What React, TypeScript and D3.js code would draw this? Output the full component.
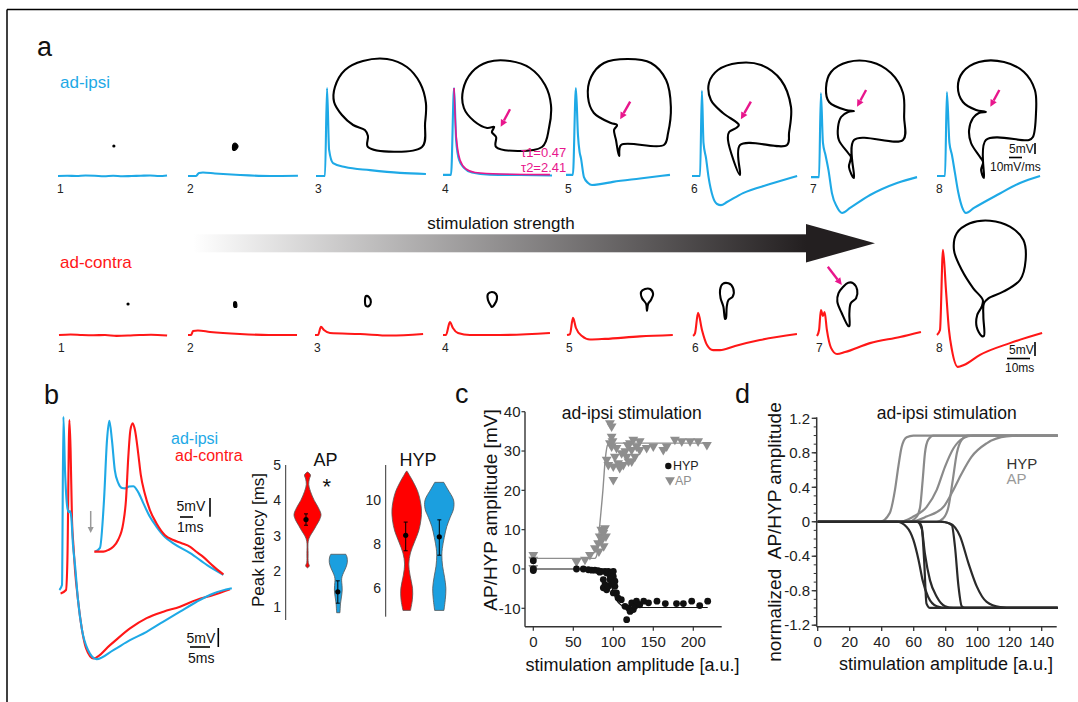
import React from 'react';
import * as d3 from 'd3';

type Pt = [number, number];

// ---------- panel a: traces, t [ms] / V [mV] ----------
const ipsiTraces: Pt[][] = [
  [[0, 0], [4, 0.1], [8, 0], [12, 0.2], [16, 0.1], [20, -0.1], [24, 0.1], [28, -0.1], [32, 0], [36, 0.1], [40, 0.2], [44, 0], [47.4, 0.2]],
  [[0, 0], [3.5, 0], [4.8, 1.1], [6.5, 1.25], [11.7, 0.9], [22.6, 0.35], [35.7, 0], [47.8, 0.1]],
  [[0, 0], [3.9, 0], [4.8, 31.4], [5.7, 9.3], [7.4, 4.6], [12.6, 3.2], [23.5, 2.1], [36.5, 1.1], [47.8, 0.7]],
  [[0, 0.4], [3.5, 0.4], [4.8, 31.4], [5.7, 12.9], [7, 5.7], [9.1, 2.9], [12.6, 1.25], [20.4, 0.5], [33.5, 0.35], [47.4, 0.2]],
  [[0, 0.4], [3, 0.4], [4.3, 31.4], [5.2, 14.6], [5.9, 8.6], [6.5, 6.4], [7.8, -0.4], [9.6, -2.5], [11.3, -3.2], [14.8, -2.9], [20.4, -2.1], [32.2, -0.9], [45.2, 0.4]],
  [[0, 0], [3.5, 0], [4.3, 30.4], [5, 11.8], [6.1, 6.4], [7.2, -0.4], [9.1, -7.5], [10.9, -10], [12.6, -10.4], [15.2, -9.3], [22.2, -6.1], [33.9, -2.9], [45.7, 0]],
  [[0, -0.4], [3.5, -0.4], [4.3, 29.6], [5.2, 11.8], [6.3, 7.5], [7.6, 2.1], [9.1, -6.1], [11.3, -11.1], [13.5, -13.2], [17, -11.4], [25.7, -6.8], [37.4, -2.5], [46.1, -0.4]],
  [[0, 0], [3.5, 0], [4.3, 30], [5.4, 11.8], [6.5, 7.5], [7.8, 1.1], [9.3, -6.1], [10.9, -11.1], [12.6, -13.2], [16.1, -11.4], [26.1, -6.8], [36.1, -2.5], [44.8, 0]],
];
const contraTraces: Pt[][] = [
  [[0, 0], [5, 0.2], [10, 0], [15, -0.1], [20, 0], [25, -0.3], [30, -0.2], [35, 0], [40, 0.1], [47, -0.2]],
  [[0, 0], [1.3, 0], [2.2, 1.4], [4.3, 1.6], [9.6, 1.1], [22.6, 0.35], [35, 0], [47.4, 0]],
  [[0, 0], [1.3, 0], [2.6, 2.9], [3.9, 1.8], [6.5, 0.7], [19.6, 0.35], [32.6, -0.2], [47, 0.35]],
  [[0, 0], [1.3, 0], [3, 4.6], [4.3, 2.5], [6.5, 0.7], [11.7, 0], [24.8, 0], [46.5, 0.7]],
  [[0, 0], [1.3, 0.35], [2.6, 6.1], [3.9, 2.5], [6.5, -0.35], [10, -1.6], [16.5, -1.4], [31.7, -0.5], [46, 0]],
  [[0, -0.35], [0.9, 0.7], [2.2, 7.9], [3.9, 1.8], [6.1, -3.6], [8.7, -5.4], [11.7, -5.4], [18.3, -3.9], [29.1, -1.8], [45.2, 0.35]],
  [[0, -0.35], [0.9, 1.8], [1.7, 8.9], [2.6, 6.8], [3.3, 8.2], [4.3, 1.8], [6.1, -4.6], [8.7, -6.8], [12.2, -6.1], [23, -2.9], [36.1, -0.7], [45.2, 1.1]],
  [[0, 0], [1.3, 1.8], [2.6, 30.4], [3.9, 16.1], [5.2, 1.8], [6.5, -5.4], [9.1, -11.4], [11.7, -10.7], [18.7, -7.1], [31.7, -2.9], [45.7, 0.7]],
];
// double exponential fit of trace 4
const ipsiFit4: Pt[] = [[4.8, 31.4], [5.7, 14.6], [7.4, 5.7], [10, 2.5], [13.9, 1.25], [24.8, 0.7], [46.5, 0.5]];
const tauLabels = ['τ1=0.47', 'τ2=2.41'];
const stimNumbers = ['1', '2', '3', '4', '5', '6', '7', '8'];

// phase plots, V [mV] / dV/dt [mV/ms]
const ipsiLoops: Pt[][] = [
  [[2.1, 1]],
  [[-1.8, -3], [-1.8, 2.5], [-1.1, 4], [0, 1], [-0.9, -3]],
  [[0.7, 0], [20, 0], [21.1, 24], [21.4, 44], [19.3, 64], [14.6, 80], [7.5, 88], [-1.1, 86], [-7.5, 77], [-11.1, 60], [-11.4, 45], [-8.6, 32], [-4.6, 22], [-0.4, 17], [0.7, 11]],
  [[1.1, 0], [17.5, 0], [20, 19], [20.7, 42], [18.6, 62], [13.2, 79], [6.1, 86], [-1.8, 85], [-7.5, 75], [-10.7, 57], [-10.4, 39], [-6.8, 26], [-2.1, 19], [0.4, 20], [-0.4, 15], [1.1, 10]],
  [[1.1, -9], [0, 7], [-0.7, 17], [0.4, 22], [-1.8, 24], [-7.9, 34], [-10, 50], [-8.9, 70], [-4.3, 84], [4.3, 88], [12.5, 84], [17.9, 67], [19.6, 40], [18.6, 14], [17.1, 2], [1.8, 2]],
  [[-0.7, -28], [-5, 7], [-4.6, 15], [-2.1, 19], [-1.1, 22], [-6.8, 34], [-11.1, 47], [-11.8, 64], [-8.6, 77], [-1.4, 84], [6.8, 82], [13.9, 67], [17.5, 40], [16.8, 14], [16.1, 2], [-0.7, 2]],
  [[-2.5, -31], [-4.3, -20], [-3.6, -10], [-4.6, -6], [-7.9, 7], [-8.2, 20], [-7.1, 30], [-4.6, 35], [-2.5, 36], [-5.4, 37], [-11.4, 45], [-12.5, 59], [-10.7, 75], [-4.6, 85], [3.6, 85], [10.7, 74], [15, 54], [15.4, 30], [15, 7], [-2.5, 7]],
  [[-1.1, -31], [-2.1, -23], [-1.4, -15], [-2.5, -10], [-5.7, 4], [-6.4, 17], [-5, 29], [-2.9, 34], [-0.4, 35], [-3.9, 37], [-8.6, 45], [-10.4, 60], [-8.6, 75], [-2.9, 85], [6.1, 85], [13.2, 75], [17.1, 57], [17.5, 34], [16.4, 10], [15, 7], [-0.4, 7]],
];
const contraLoops: Pt[][] = [
  [[6.8, 2]],
  [[-1.4, -1], [-1.4, 4], [-0.7, 4], [-0.5, -1]],
  [[0.4, 0], [0, 6], [0.4, 10], [1.4, 9], [2.1, 4], [1.4, 0]],
  [[-0.7, 0], [-1.8, 6], [-1.8, 12], [-0.4, 14], [1.1, 12], [1.4, 7], [0.4, 1], [-0.4, -1]],
  [[10.7, -5], [10.4, 2], [8.9, 8], [8.6, 14], [10, 17], [11.8, 17], [12.9, 12], [12.1, 6], [11.1, 2]],
  [[-6.4, -13], [-7, -0.7], [-8, 7.7], [-8.2, 16], [-7.3, 22], [-5.2, 22.7], [-3.5, 17.7], [-3.7, 9.3], [-5.2, 6], [-5.8, -0.7], [-6.1, -12.3]],
  [[-6.7, -20], [-9, -7.3], [-10.6, 4.3], [-10.2, 12.7], [-8.5, 19.3], [-6.7, 23.3], [-4.9, 22.7], [-3.5, 16], [-3.9, 7.7], [-5.8, 2.7], [-6.3, -7.3], [-6.3, -20]],
  [[-1.9, -30], [-3.7, -20.7], [-3.5, -9], [-1.9, -0.7], [-1.5, 6], [-4.9, 17.7], [-9, 36], [-11.8, 56], [-10.8, 72.7], [-6.1, 82.7], [1.1, 85.3], [8.2, 79.3], [13, 66], [13.8, 46], [11.8, 26], [5.8, 14.3], [0.5, 7.7], [-1.1, 2.7], [-1.3, -10.7], [-1.1, -30]],
];

// ---------- panel b ----------
const ipsiMain: Pt[] = [[0.1, 0], [0.75, 1.3], [1.1, 45.6], [1.5, 31.6], [2, 22.4], [2.4, 20.5], [2.75, 20.8], [3.1, 18.9], [3.5, 11.8], [4, 6.6], [4.75, -2.6], [5.75, -10.5], [7.25, -15.8], [9.4, -18.2], [13.6, -15.8], [17.75, -13.2], [21.9, -11], [26.1, -8.3], [30.25, -5.7], [34.4, -3.1], [38.6, -0.9], [43.2, 0.45]];
const contraMain: Pt[] = [[0.4, -0.9], [1.75, 0], [2.1, 7.9], [2.6, 44.7], [2.9, 36.8], [3.25, 18.4], [3.6, 11.8], [4, 5.3], [4.75, -2.6], [5.75, -10.5], [6.75, -15.3], [8.6, -18], [12.75, -14.5], [17.75, -10.1], [21.9, -7.4], [26.1, -5.7], [30.25, -4.4], [34.4, -2.6], [38.6, -1.3], [42.75, 0.2]];
const ipsiInset: Pt[] = [[0.08, 0.1], [0.46, 1.1], [0.77, 13.9], [1, 29.9], [1.18, 35.1], [1.38, 29.9], [1.6, 21.9], [1.87, 18.4], [2.15, 17.1], [2.4, 17], [2.7, 17.5], [3.02, 17.6], [3.4, 16], [3.8, 13], [4.3, 9.4], [4.8, 6.8], [5.46, 4], [6.1, 2.3], [7.4, -0.3], [8.7, -3.5], [9.95, -6.1]];
const contraInset: Pt[] = [[0.02, 0.1], [0.72, 0.1], [1.08, 0.5], [1.48, 1.4], [1.85, 3.2], [2.25, 7.7], [2.46, 13.9], [2.64, 25.5], [2.8, 32.6], [2.98, 34.4], [3.15, 32.6], [3.4, 26.4], [3.6, 20.6], [3.9, 15.7], [4.3, 11.2], [4.8, 7.7], [5.46, 4.5], [6.1, 3.2], [6.7, 2.4], [7.4, 1.4], [7.9, 0], [8.4, -1.3], [9.15, -3.7], [9.95, -6]];

// violins: [value, relative density]
const apRed: Pt[] = [[4.8, 0.02], [4.72, 0.2], [4.6, 0.12], [4.45, 0.08], [4.25, 0.2], [4.0, 0.45], [3.8, 0.72], [3.6, 0.9], [3.45, 0.8], [3.3, 0.6], [3.15, 0.4], [3.0, 0.18], [2.85, 0.05], [2.5, 0.04], [2.25, 0.05], [2.15, 0.12], [2.1, 0.02]];
const apBlue: Pt[] = [[2.48, 0.5], [2.4, 0.58], [2.25, 0.6], [2.1, 0.5], [1.97, 0.36], [1.85, 0.25], [1.75, 0.22], [1.6, 0.25], [1.47, 0.26], [1.3, 0.22], [1.1, 0.15], [0.9, 0.12], [0.83, 0.11]];
const hypRed: Pt[] = [[11.3, 0.03], [11.1, 0.2], [10.8, 0.45], [10.3, 0.78], [9.6, 0.98], [9.1, 0.95], [8.6, 0.8], [8.1, 0.52], [7.6, 0.25], [7.1, 0.14], [6.6, 0.22], [6.0, 0.39], [5.5, 0.38], [5.0, 0.25]];
const hypBlue: Pt[] = [[10.8, 0.3], [10.5, 0.55], [10.0, 0.95], [9.6, 0.95], [9.2, 0.72], [8.8, 0.5], [8.3, 0.33], [7.8, 0.2], [7.5, 0.17], [7.0, 0.22], [6.5, 0.35], [6.0, 0.44], [5.5, 0.4], [5.0, 0.31]];
// mean, lower, upper
const apStats = [[3.46, 3.3, 3.62], [1.42, 1.1, 1.73]];
const hypStats = [[8.4, 7.7, 9.0], [8.33, 7.5, 9.1]];
const apTicks = [1, 2, 3, 4, 5];
const hypTicks = [6, 8, 10];

// ---------- panel c ----------
const apPoints: Pt[] = [[0, 3.6], [0, 2.4], [0, 0.3], [54, 1.9], [64.6, 2.4], [70.8, 3.6], [77, 5.3], [81, 6.6], [83, 8.3], [85, 10], [87.5, 9.2], [89.6, 10.4], [90.8, 8.3], [82, 4.5], [86, 7.5], [88, 5.8],
  [95.8, 37.1], [97.9, 36.3], [97.9, 33.7], [95.8, 32], [97.9, 31.2], [91.7, 27.8], [93.8, 26.5], [100, 26.1], [102, 28.6], [100, 22.7], [106, 26.9], [112.5, 26.5], [110.4, 29.5], [116.7, 28.6], [120.8, 32], [125, 32.9], [122.9, 30.3], [129, 31.2], [133, 30.3], [127, 28.6], [123, 27.4], [119, 27.4], [133, 32.5], [141.7, 30.8], [150, 31.2], [162.5, 30.3], [166.7, 31.2], [177, 32.9], [185.6, 32.5], [196, 32.5], [206, 32.5], [217, 31.6], [99, 32.5], [104, 30.8], [108, 25.7], [118, 31.5], [115, 30]];
const hypPoints: Pt[] = [[0, 2.1], [0, 0], [0, -0.4], [54, 0], [62.5, 0], [68.8, -0.2], [73, -0.3], [77, -0.3], [81, -0.4], [83, -0.8], [85, -0.6], [89.6, -0.6], [91.7, -1], [93.8, -0.6], [95.8, -1.4], [98, -1], [100, -0.6], [100, -1.9], [102, -3.1], [102, -4.4], [100, -6.1], [104, -6.1], [87.5, -2.7], [89.6, -4], [87.5, -4.8], [91.7, -5.3], [95.8, -2.7], [93.8, -4.4], [97.9, -3.6], [106, -7.4], [110, -7.8], [114.6, -9.5], [116.7, -12.9], [119, -9.9], [121, -10.8], [123, -8.6], [125, -10.3], [127, -9.5], [129, -8.2], [133, -9.1], [138, -8.2], [144, -8.6], [154.6, -8.2], [165, -8.8], [179, -8.8], [187.6, -8.8], [198, -8.2], [208, -9.3], [218, -8.2]];
const apFit: Pt[] = [[0, 2.7], [77, 2.7], [80, 4], [83, 11], [87, 20], [90, 28], [93, 31.6], [97, 32], [218, 32]];
const hypFit: Pt[] = [[0, 0], [80, 0], [90, -1], [97, -4], [103, -7.5], [110, -9.2], [120, -9.8], [218, -9.8]];
const cXTicks = [0, 50, 100, 150, 200];
const cYTicks = [-10, 0, 10, 20, 30, 40];

// ---------- panel d ----------
const apCurves: Pt[][] = [
  [[0, 0], [39, 0], [45, 0.1], [48.3, 0.37], [50.4, 0.64], [52.5, 0.87], [55.6, 0.98], [59.8, 1], [150, 1]],
  [[0, 0], [56.7, 0], [61.9, 0.06], [64, 0.17], [65.6, 0.48], [67, 0.79], [69, 0.95], [72.3, 1], [150, 1]],
  [[0, 0], [51.5, 0], [59.8, 0.06], [68, 0.17], [74.4, 0.37], [79.6, 0.64], [84.8, 0.85], [91, 0.97], [97, 1], [150, 1]],
  [[0, 0], [74.4, 0], [78.5, 0.04], [81.7, 0.17], [84.4, 0.48], [86.9, 0.79], [90, 0.95], [94, 1], [150, 1]],
  [[0, 0], [57.7, 0], [68, 0.06], [78.5, 0.17], [84.8, 0.37], [90, 0.56], [96, 0.75], [105.6, 0.91], [118, 0.99], [130.6, 1], [150, 1]],
];
const hypCurves: Pt[][] = [
  [[0, 0], [49.4, 0], [55.6, -0.06], [59.8, -0.21], [63, -0.44], [65.6, -0.68], [69, -0.87], [74.4, -0.98], [80.6, -1], [150, -1]],
  [[0, 0], [63, 0], [65, -0.06], [66.5, -0.44], [68, -0.95], [70.2, -1], [150, -1]],
  [[0, 0], [62, 0], [65, -0.08], [67, -0.37], [70.2, -0.68], [74.4, -0.87], [79.6, -0.98], [84.8, -1], [150, -1]],
  [[0, 0], [78.5, 0], [83.8, -0.04], [85.8, -0.29], [88, -0.75], [90, -0.98], [92, -1], [150, -1]],
  [[0, 0], [76.5, 0], [82.7, -0.02], [89, -0.17], [94.2, -0.48], [99.4, -0.75], [105.6, -0.93], [114, -0.99], [122, -1], [150, -1]],
];
const dXTicks = [0, 20, 40, 60, 80, 100, 120, 140];
const dYTicks = [-1.2, -0.8, -0.4, 0, 0.4, 0.8, 1.2];

// ---------- styling / layout ----------
const CYAN = '#1ea9e6';
const RED = '#ff1717';
const MAGENTA = '#e8168c';
const VBLUE = '#1b9fdf';
const FONT = 'Liberation Sans, Arial, Helvetica, sans-serif';
const AX = '#333';

const topX0 = [58, 188, 316, 443, 566, 692, 811, 937];
const botX0 = [59, 188, 315, 443, 567, 693, 817, 937];
const TOP_BASE = 176;
const BOT_BASE = 335;

// ms -> px, mV -> px (relative)
const tA = d3.scaleLinear().domain([0, 10]).range([0, 23]);
const vA = d3.scaleLinear().domain([0, 10]).range([0, -28]);
const phV = d3.scaleLinear().domain([0, 10]).range([0, 28]);
const phD = d3.scaleLinear().domain([0, 100]).range([0, -100]);

const loopArrows = [
  { row: 0, i: 3, v: 2.75, d: 20.3, dx: 9.3, dy: -17.4 },
  { row: 0, i: 4, v: 1.5, d: 27.7, dx: 10, dy: -17.6 },
  { row: 0, i: 5, v: -0.4, d: 27.7, dx: 10, dy: -17.6 },
  { row: 0, i: 6, v: -1.4, d: 40.3, dx: 9, dy: -16.7 },
  { row: 0, i: 7, v: 1.2, d: 40.3, dx: 9, dy: -16.7 },
  { row: 1, i: 6, v: -9, d: 21, dx: -14, dy: -18.3 },
];

function Arrow({ x1, y1, x2, y2, color, head = 7, width = 2 }: any) {
  const a = Math.atan2(y2 - y1, x2 - x1);
  const bx = x2 - head * Math.cos(a);
  const by = y2 - head * Math.sin(a);
  const px = Math.sin(a) * head * 0.5;
  const py = -Math.cos(a) * head * 0.5;
  return (
    <g>
      <line x1={x1} y1={y1} x2={bx} y2={by} stroke={color} strokeWidth={width} />
      <polygon points={`${x2},${y2} ${bx + px},${by + py} ${bx - px},${by - py}`} fill={color} />
    </g>
  );
}

function TraceRow({ traces, loops, x0s, base, color }: any) {
  return (
    <g>
      {traces.map((tr: Pt[], i: number) => {
        const x0 = x0s[i];
        const line = d3.line<Pt>().x(d => x0 + tA(d[0])).y(d => base + vA(d[1])).curve(d3.curveMonotoneX);
        return <path key={'t' + i} d={line(tr) || ''} fill="none" stroke={color} strokeWidth={2.1} strokeLinejoin="round" />;
      })}
      {loops.map((lp: Pt[], i: number) => {
        const ox = x0s[i] + 50;
        const oy = base - 29;
        if (lp.length === 1) {
          return <circle key={'l' + i} cx={ox + phV(lp[0][0])} cy={oy + phD(lp[0][1])} r={1.6} fill="#000" />;
        }
        const line = d3.line<Pt>().x(d => ox + phV(d[0])).y(d => oy + phD(d[1])).curve(d3.curveCatmullRomClosed.alpha(0.5));
        const small = lp.length <= 5;
        return <path key={'l' + i} d={line(lp) || ''} fill={small ? '#000' : 'none'} stroke="#000" strokeWidth={small ? 1.2 : 2.1} strokeLinejoin="round" />;
      })}
      {stimNumbers.map((n, i) => (
        <text key={'n' + i} x={x0s[i] - 1} y={base + 17} fontSize={12} fill="#222">{n}</text>
      ))}
    </g>
  );
}

function Violin({ dens, cx, y, color }: any) {
  const w = d3.scaleLinear().domain([0, 1]).range([0, 15]);
  const area = d3.area<Pt>().y(d => y(d[0])).x0(d => cx - w(d[1])).x1(d => cx + w(d[1])).curve(d3.curveCatmullRom);
  return <path d={area(dens) || ''} fill={color} stroke="#555" strokeWidth={0.8} />;
}

function ErrDot({ s, cx, y }: any) {
  return (
    <g stroke="#000" strokeWidth={1}>
      <line x1={cx} x2={cx} y1={y(s[1])} y2={y(s[2])} />
      <line x1={cx - 2} x2={cx + 2} y1={y(s[1])} y2={y(s[1])} />
      <line x1={cx - 2} x2={cx + 2} y1={y(s[2])} y2={y(s[2])} />
      <circle cx={cx} cy={y(s[0])} r={2.6} fill="#000" stroke="none" />
    </g>
  );
}

export default function App() {
  // panel b scales
  const bxMain = d3.scaleLinear().domain([0, 5]).range([59, 79]);
  const byMain = d3.scaleLinear().domain([0, 5]).range([590, 571]);
  const bxIn = d3.scaleLinear().domain([0, 1]).range([94, 107]);
  const byIn = d3.scaleLinear().domain([0, 5]).range([552, 533.3]);
  const lineB = (sx: any, sy: any) => d3.line<Pt>().x(d => sx(d[0])).y(d => sy(d[1])).curve(d3.curveMonotoneX);

  const yAP = d3.scaleLinear().domain([1, 5]).range([606.7, 465]);
  const yHYP = d3.scaleLinear().domain([6, 10]).range([588.3, 500]);

  // panel c
  const xC = d3.scaleLinear().domain([0, 200]).range([533.3, 693.3]);
  const yC = d3.scaleLinear().domain([-10, 40]).range([608.3, 411.7]);
  const cBottom = 626.7;
  const cLeft = 525;
  const lineC = d3.line<Pt>().x(d => xC(d[0])).y(d => yC(d[1])).curve(d3.curveMonotoneX);
  const tri = d3.symbol().type(d3.symbolTriangle).size(42)() || '';

  // panel d
  const xD = d3.scaleLinear().domain([0, 150]).range([817.7, 1057.7]);
  const yD = d3.scaleLinear().domain([-1.2, 1.2]).range([625.2, 418.3]);
  const lineD = d3.line<Pt>().x(d => xD(d[0])).y(d => yD(d[1])).curve(d3.curveMonotoneX);
  const dMinor = d3.range(-12, 13).map(k => k / 10);

  const fit4Line = d3.line<Pt>().x(d => topX0[3] + tA(d[0])).y(d => TOP_BASE + vA(d[1])).curve(d3.curveMonotoneX);

  return (
    <div style={{ position: 'absolute', left: 0, top: 0 }}>
      <svg width={1078} height={702} style={{ display: 'block', background: '#fff' }} fontFamily={FONT}>
        <defs>
          <linearGradient id="stim" gradientUnits="userSpaceOnUse" x1={193} y1={0} x2={806} y2={0}>
            <stop offset="0" stopColor="#ffffff" />
            <stop offset="1" stopColor="#231f20" />
          </linearGradient>
        </defs>
        {/* frame */}
        <line x1={7} y1={9.5} x2={1078} y2={9.5} stroke="#000" strokeWidth={1.5} />
        <line x1={7} y1={9.5} x2={7} y2={702} stroke="#000" strokeWidth={1.5} />

        {/* ---------------- panel a ---------------- */}
        <text x={37} y={56} fontSize={27} fill="#111">a</text>
        <text x={60} y={88} fontSize={17} fill={CYAN}>ad-ipsi</text>
        <text x={60} y={268} fontSize={17} fill={RED}>ad-contra</text>

        <TraceRow traces={ipsiTraces} loops={ipsiLoops} x0s={topX0} base={TOP_BASE} color={CYAN} />
        <path d={fit4Line(ipsiFit4) || ''} fill="none" stroke={MAGENTA} strokeWidth={1.6} />
        <text x={521} y={156.5} fontSize={13} fill={MAGENTA}>{tauLabels[0]}</text>
        <text x={521} y={171.5} fontSize={13} fill={MAGENTA}>{tauLabels[1]}</text>

        <TraceRow traces={contraTraces} loops={contraLoops} x0s={botX0} base={BOT_BASE} color={RED} />

        {loopArrows.map((a, k) => {
          const x0s = a.row === 0 ? topX0 : botX0;
          const base = a.row === 0 ? TOP_BASE : BOT_BASE;
          const hx = x0s[a.i] + 50 + phV(a.v);
          const hy = base - 29 + phD(a.d);
          return <Arrow key={k} x1={hx + a.dx} y1={hy + a.dy} x2={hx} y2={hy} color={MAGENTA} head={7} width={2.4} />;
        })}

        {/* stimulation strength arrow */}
        <rect x={193} y={234.3} width={613} height={18} fill="url(#stim)" />
        <polygon points="806,224 875,243.3 806,262.5" fill="#231f20" />
        <text x={501} y={229} fontSize={17} textAnchor="middle" fill="#111">stimulation strength</text>

        {/* scale bars a */}
        <g stroke="#000" strokeWidth={1.6}>
          <line x1={1035} x2={1035} y1={143} y2={154} />
          <line x1={1009} x2={1022} y1={157.5} y2={157.5} />
          <line x1={1035} x2={1035} y1={342} y2={356} />
          <line x1={1007} x2={1030} y1={358.5} y2={358.5} />
        </g>
        <text x={1009} y={153} fontSize={12} fill="#111">5mV</text>
        <text x={990} y={171} fontSize={12} fill="#111">10mV/ms</text>
        <text x={1009} y={354} fontSize={12} fill="#111">5mV</text>
        <text x={1005} y={372} fontSize={12} fill="#111">10ms</text>

        {/* ---------------- panel b ---------------- */}
        <text x={44} y={404} fontSize={27} fill="#111">b</text>
        <path d={lineB(bxMain, byMain)(contraMain) || ''} fill="none" stroke={RED} strokeWidth={2.1} />
        <path d={lineB(bxMain, byMain)(ipsiMain) || ''} fill="none" stroke={CYAN} strokeWidth={2.1} />
        <path d={lineB(bxIn, byIn)(ipsiInset) || ''} fill="none" stroke={CYAN} strokeWidth={2.1} />
        <path d={lineB(bxIn, byIn)(contraInset) || ''} fill="none" stroke={RED} strokeWidth={2.1} />
        <Arrow x1={90.7} y1={511} x2={90.7} y2={533} color="#999" head={6} width={1.5} />
        <text x={171} y={444} fontSize={16} fill={CYAN}>ad-ipsi</text>
        <text x={175} y={461} fontSize={16} fill={RED}>ad-contra</text>
        <g stroke="#000" strokeWidth={1.6}>
          <line x1={210} x2={210} y1={498} y2={516.7} />
          <line x1={180} x2={193} y1={517} y2={517} />
          <line x1={218.3} x2={218.3} y1={628} y2={647} />
          <line x1={190} x2={210} y1={647} y2={647} />
        </g>
        <text x={176.5} y={511} fontSize={14} fill="#111">5mV</text>
        <text x={177} y={531.5} fontSize={14} fill="#111">1ms</text>
        <text x={186.5} y={642.5} fontSize={14} fill="#111">5mV</text>
        <text x={188} y={663} fontSize={14} fill="#111">5ms</text>

        {/* violins AP */}
        <text x={325.5} y={466} fontSize={18} textAnchor="middle" fill="#111">AP</text>
        <text x={326.7} y={494} fontSize={22} textAnchor="middle" fill="#111">*</text>
        <line x1={285.7} x2={285.7} y1={465} y2={620} stroke={AX} strokeWidth={1} />
        {apTicks.map(t => (
          <text key={t} x={281} y={yAP(t)} dy="0.35em" fontSize={14} textAnchor="end" fill="#222">{t}</text>
        ))}
        <text transform="translate(264,540) rotate(-90)" fontSize={17} textAnchor="middle" fill="#111">Peak latency [ms]</text>
        <Violin dens={apRed} cx={307.5} y={yAP} color="#ff0000" />
        <Violin dens={apBlue} cx={338.3} y={yAP} color={VBLUE} />
        <ErrDot s={apStats[0]} cx={306} y={yAP} />
        <ErrDot s={apStats[1]} cx={337.8} y={yAP} />

        {/* violins HYP */}
        <text x={418} y={466} fontSize={18} textAnchor="middle" fill="#111">HYP</text>
        <line x1={385.7} x2={385.7} y1={465} y2={616.7} stroke={AX} strokeWidth={1} />
        {hypTicks.map(t => (
          <text key={t} x={381} y={yHYP(t)} dy="0.35em" fontSize={14} textAnchor="end" fill="#222">{t}</text>
        ))}
        <Violin dens={hypRed} cx={406.7} y={yHYP} color="#ff0000" />
        <Violin dens={hypBlue} cx={439.3} y={yHYP} color={VBLUE} />
        <ErrDot s={hypStats[0]} cx={405.7} y={yHYP} />
        <ErrDot s={hypStats[1]} cx={439.3} y={yHYP} />

        {/* ---------------- panel c ---------------- */}
        <text x={455} y={403} fontSize={27} fill="#111">c</text>
        <text x={631.7} y={418.5} fontSize={17.5} textAnchor="middle" fill="#111">ad-ipsi stimulation</text>
        <line x1={cLeft} x2={cLeft} y1={yC(40)} y2={cBottom} stroke={AX} strokeWidth={1.4} />
        <line x1={cLeft} x2={721.7} y1={cBottom} y2={cBottom} stroke={AX} strokeWidth={1.4} />
        {cYTicks.map(t => (
          <g key={t}>
            <line x1={cLeft - 3.5} x2={cLeft} y1={yC(t)} y2={yC(t)} stroke={AX} strokeWidth={1.2} />
            <text x={520.5} y={yC(t)} dy="0.35em" fontSize={15} textAnchor="end" fill="#222">{t}</text>
          </g>
        ))}
        {cXTicks.map(t => (
          <g key={t}>
            <line x1={xC(t)} x2={xC(t)} y1={cBottom} y2={cBottom + 4} stroke={AX} strokeWidth={1.2} />
            <text x={xC(t)} y={647} fontSize={15} textAnchor="middle" fill="#222">{t}</text>
          </g>
        ))}
        <text x={632.5} y={671} fontSize={18} textAnchor="middle" fill="#111">stimulation amplitude [a.u.]</text>
        <text transform="translate(497,510) rotate(-90)" fontSize={19} textAnchor="middle" fill="#111">AP/HYP amplitude [mV]</text>
        {apPoints.map((p, k) => (
          <path key={'a' + k} d={tri} transform={`translate(${xC(p[0])},${yC(p[1])}) rotate(180)`} fill="#8e8e8e" />
        ))}
        <path d={lineC(apFit) || ''} fill="none" stroke="#8e8e8e" strokeWidth={1.4} />
        {hypPoints.map((p, k) => (
          <circle key={'h' + k} cx={xC(p[0])} cy={yC(p[1])} r={3.4} fill="#111" />
        ))}
        <path d={lineC(hypFit) || ''} fill="none" stroke="#111" strokeWidth={1.2} />
        <circle cx={668.3} cy={466} r={3.2} fill="#111" />
        <text x={673} y={470} fontSize={12.5} fill="#222">HYP</text>
        <path d={tri} transform="translate(670,480) rotate(180)" fill="#8e8e8e" />
        <text x={675} y={484.5} fontSize={12.5} fill="#8e8e8e">AP</text>

        {/* ---------------- panel d ---------------- */}
        <text x={735} y={403} fontSize={27} fill="#111">d</text>
        <text x={946.7} y={418.5} fontSize={17.5} textAnchor="middle" fill="#111">ad-ipsi stimulation</text>
        <line x1={816.7} x2={816.7} y1={417.3} y2={626.7} stroke={AX} strokeWidth={1.5} />
        <line x1={816.7} x2={1056.7} y1={626.7} y2={626.7} stroke={AX} strokeWidth={1.5} />
        {dMinor.map(t => (
          <line key={'m' + t} x1={813.7} x2={816.7} y1={yD(t)} y2={yD(t)} stroke={AX} strokeWidth={1} />
        ))}
        {dYTicks.map(t => (
          <g key={t}>
            <line x1={811.7} x2={816.7} y1={yD(t)} y2={yD(t)} stroke={AX} strokeWidth={1.3} />
            <text x={810} y={yD(t)} dy="0.35em" fontSize={15} textAnchor="end" fill="#222">{t === 0 ? '0' : d3.format('.1f')(t).replace('−', '-')}</text>
          </g>
        ))}
        {dXTicks.map(t => (
          <g key={t}>
            <line x1={xD(t)} x2={xD(t)} y1={626.7} y2={631} stroke={AX} strokeWidth={1.3} />
            <text x={xD(t)} y={647} fontSize={15} textAnchor="middle" fill="#222">{t}</text>
          </g>
        ))}
        <text x={946} y={670} fontSize={18} textAnchor="middle" fill="#111">stimulation amplitude [a.u.]</text>
        <text transform="translate(781,532) rotate(-90)" fontSize={19} textAnchor="middle" fill="#111" style={{ whiteSpace: 'pre' }}>normalized  AP/HYP amplitude</text>
        {apCurves.map((c, k) => (
          <path key={'ac' + k} d={lineD(c) || ''} fill="none" stroke="#8a8a8a" strokeWidth={2.2} />
        ))}
        {hypCurves.map((c, k) => (
          <path key={'hc' + k} d={lineD(c) || ''} fill="none" stroke="#2a2a2a" strokeWidth={2.2} />
        ))}
        <text x={1006.5} y={469} fontSize={15} fill="#333">HYP</text>
        <text x={1006.5} y={484} fontSize={15} fill="#999">AP</text>
      </svg>
    </div>
  );
}
